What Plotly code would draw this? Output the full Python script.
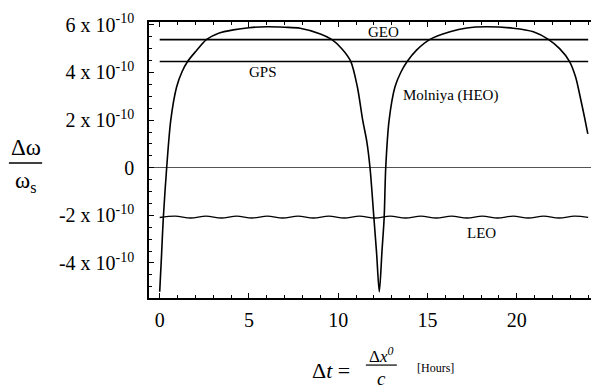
import plotly.graph_objects as go

FONT = "Liberation Serif, Times New Roman, serif"

# all y values in units of 1e-10
t_span = [0, 24]
geo_level = [5.38, 5.38]
gps_level = [4.46, 4.46]

molniya_t = [0, 0.1, 0.2, 0.39, 0.62, 0.95, 1.25, 1.57, 2.0, 2.63, 3.3, 4.12,
             5.0, 6.0, 7.0, 7.86, 9.0, 9.63, 10.2, 10.7, 11.07, 11.37, 11.6,
             11.78, 12.0, 12.15, 12.3, 12.45, 12.57, 12.66, 12.85, 13.18, 13.5,
             13.87, 14.4, 15.14, 16.26, 17.2, 18.3, 19.8, 20.93, 21.77, 22.4,
             22.95, 23.3, 23.55, 23.8, 23.98]
molniya_v = [-5.21, -3.7, -2.13, 0.0, 2.0, 3.4, 4.03, 4.47, 4.87, 5.39, 5.65, 5.79,
             5.88, 5.92, 5.9, 5.86, 5.62, 5.39, 5.0, 4.47, 3.4, 2.0, 1.1,
             0.0, -2.13, -3.6, -5.21, -3.5, -2.13, 0.0, 2.0, 3.4, 4.0,
             4.47, 4.95, 5.39, 5.71, 5.87, 5.92, 5.86, 5.71, 5.39, 5.0,
             4.47, 3.8, 2.98, 2.1, 1.42]

leo_t = [0, 0.87, 1.73, 2.59, 3.45, 4.31, 5.17, 6.03, 6.89, 7.75, 8.61, 9.47,
         10.33, 11.19, 12.05, 12.91, 13.77, 14.63, 15.49, 16.35, 17.21, 18.07,
         18.93, 19.79, 20.65, 21.51, 22.37, 23.23, 24.0]
leo_v = [-2.09, -2.03, -2.11, -2.03, -2.11, -2.03, -2.11, -2.03, -2.11, -2.03,
         -2.11, -2.03, -2.11, -2.03, -2.11, -2.03, -2.11, -2.03, -2.11, -2.03,
         -2.11, -2.03, -2.11, -2.03, -2.11, -2.03, -2.11, -2.03, -2.08]

y_ticks = [-4, -2, 0, 2, 4, 6]
y_ticktext = ["-4 x 10<sup>-10</sup>", "-2 x 10<sup>-10</sup>", "0",
              "2 x 10<sup>-10</sup>", "4 x 10<sup>-10</sup>", "6 x 10<sup>-10</sup>"]
x_ticks = [0, 5, 10, 15, 20]

line = dict(color="black", width=1.6)

fig = go.Figure()
fig.add_trace(go.Scatter(x=t_span, y=geo_level, mode="lines", line=line))
fig.add_trace(go.Scatter(x=t_span, y=gps_level, mode="lines", line=line))
fig.add_trace(go.Scatter(x=leo_t, y=leo_v, mode="lines",
                         line=dict(color="black", width=1.3, shape="spline")))
fig.add_trace(go.Scatter(x=molniya_t, y=molniya_v, mode="lines",
                         line=dict(color="black", width=1.6, shape="spline", smoothing=0.8)))

labels = [("GEO", 12.51, 5.70), ("GPS", 5.79, 4.02),
          ("Molniya (HEO)", 16.31, 3.05), ("LEO", 18.04, -2.75)]
for txt, x, y in labels:
    fig.add_annotation(x=x, y=y, text=txt, showarrow=False,
                       font=dict(family=FONT, size=15, color="black"))

# axis titles built from paper-positioned text + fraction bars
paper_text = [
    ("Δω", -0.274, 0.545, 23),
    ("ω<sub>s</sub>", -0.274, 0.42, 23),
    ("Δ<i>t</i> =", 0.405, -0.261, 22),
    ("Δ<i>x</i><sup><i>0</i></sup>", 0.517, -0.205, 17),
    ("<i>c</i>", 0.517, -0.29, 19),
    ("[Hours]", 0.637, -0.254, 12),
]
for txt, x, y, size in paper_text:
    fig.add_annotation(xref="paper", yref="paper", x=x, y=y, text=txt,
                       xanchor="center", yanchor="middle", showarrow=False,
                       font=dict(family=FONT, size=size, color="black"))

fig.add_shape(type="line", xref="paper", yref="paper", x0=-0.312, x1=-0.238,
              y0=0.489, y1=0.489, line=dict(color="black", width=1.5))
fig.add_shape(type="line", xref="paper", yref="paper", x0=0.483, x1=0.552,
              y0=-0.243, y1=-0.243, line=dict(color="black", width=1.2))

axis_common = dict(showline=True, linecolor="black", linewidth=1.5, mirror="ticks",
                   ticks="inside", tickcolor="black", ticklen=5, tickwidth=1.2,
                   showgrid=False, automargin=False,
                   tickfont=dict(family=FONT, size=20, color="black"))

fig.update_xaxes(range=[-0.6, 24.55], tickvals=x_ticks, zeroline=False,
                 minor=dict(dtick=1, ticks="inside", ticklen=3, tickcolor="black"),
                 ticklabelstandoff=3, **axis_common)
fig.update_yaxes(range=[-5.47, 6.12], tickvals=y_ticks, ticktext=y_ticktext,
                 zeroline=True, zerolinecolor="#555555", zerolinewidth=1,
                 minor=dict(dtick=0.5, ticks="inside", ticklen=3, tickcolor="black"),
                 ticklabelstandoff=9, **axis_common)

# page body has an 8px margin, so the figure is 8px smaller on each side
fig.update_layout(
    width=591,
    height=380,
    showlegend=False,
    margin=dict(l=141, r=1, t=14, b=90),
    paper_bgcolor="white",
    plot_bgcolor="white",
    font_family=FONT,
)

fig.write_html("out.html")
